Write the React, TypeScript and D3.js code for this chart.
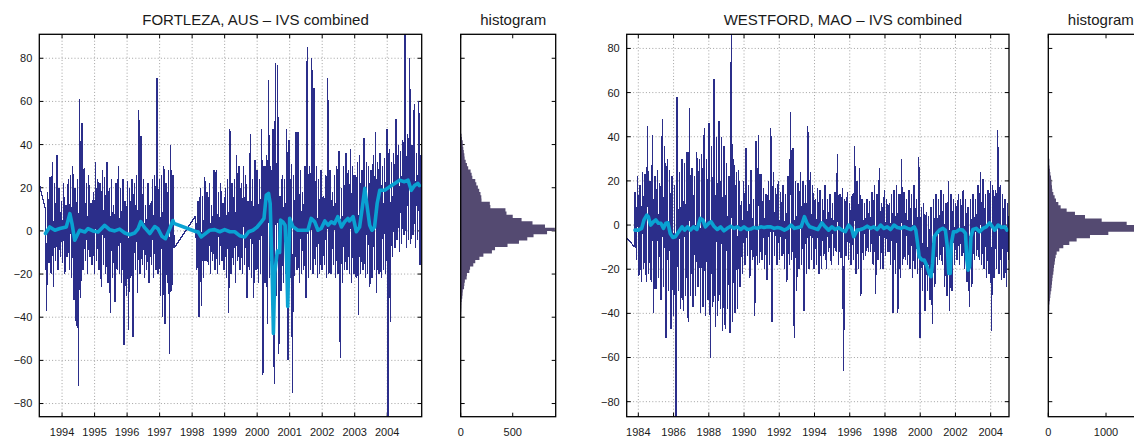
import React from "react";
import * as d3 from "d3";

// ================= FORTLEZA, AUS =================
const fortLeadYears = [1993.3, 1993.31];
const fortLeadValues = [50, 21];
const fortStep = 0.07;
const fortSeg1Start = 1993.49;
const fortSeg1Hi = [10, 18, 25, 32, 22, 35, 20, 14, 22, 12, 24, 26, 30, 20, 24, 61, 50, 29, 22, 26, 13, 18, 32, 24, 22, 28, 25, 32, 20, 24, 12, 22, 30, 20, 24, 14, 23, 20, 24, 22, 26, 56, 44, 24, 12, 22, 13, 24, 26, 71, 24, 26, 30, 22, 28, 40, 26];
const fortSeg1Lo = [-37, -15, -20, -26, -14, -18, -12, -15, -20, -12, -18, -22, -32, -44, -72, -31, -18, -14, -20, -12, -16, -20, -14, -18, -26, -16, -20, -24, -38, -22, -33, -18, -20, -24, -53, -30, -46, -22, -49, -18, -29, -20, -16, -22, -18, -24, -16, -22, -18, -20, -30, -40, -43, -24, -57, -28, -8];
const fortSeg2Start = 1998.11;
const fortSeg2Hi = [7, 14, 20, 16, 25, 18, 22, 12, 28, 28, 18, 22, 13, 20, 24, 47, 22, 24, 35, 30, 22, 30, 26, 14, 45, 24, 33, 28, 24, 47, 30, 35, 70, 30, 47, 78, 77, 16, 26, 24, 47, 42, 31, 26, 46, 46, 28, 18, 30, 85, 30, 80, 66, 30, 24, 28, 16, 26, 71, 28, 18, 26, 30, 37, 20, 30, 36, 28, 38, 30, 26, 32, 35, 28, 43, 32, 30, 28, 35, 46, 32, 36, 30, 34, 47, 38, 32, 36, 52, 40, 37, 42, 95, 45, 80, 40, 59, 36, 60, 35];
const fortSeg2Lo = [-18, -40, -35, -22, -14, -16, -20, -14, -18, -20, -16, -14, -18, -22, -38, -20, -16, -24, -14, -18, -20, -16, -31, -18, -22, -31, -18, -24, -20, -67, -24, -43, -22, -26, -71, -30, -57, -28, -24, -20, -60, -22, -75, -21, -18, -24, -20, -18, -31, -22, -18, -20, -16, -22, -20, -18, -16, -22, -20, -20, -16, -22, -20, -59, -24, -18, -18, -20, -24, -20, -22, -39, -20, -18, -22, -20, -26, -22, -18, -29, -20, -22, -18, -20, -95, -42, -12, -8, -4, -10, -6, -2, -8, -4, -6, -2, -8, -4, -16, -5];
const fortSmoothYears = [1993.49, 1993.62, 1993.78, 1993.93, 1994.13, 1994.24, 1994.31, 1994.39, 1994.54, 1994.7, 1994.8, 1994.95, 1995.11, 1995.31, 1995.47, 1995.62, 1995.77, 1995.93, 1996.08, 1996.23, 1996.34, 1996.42, 1996.54, 1996.7, 1996.85, 1996.95, 1997.07, 1997.18, 1997.31, 1997.41, 1997.44, 1998.13, 1998.18, 1998.28, 1998.39, 1998.54, 1998.69, 1998.85, 1999.0, 1999.16, 1999.31, 1999.46, 1999.62, 1999.74, 1999.87, 2000.0, 2000.13, 2000.21, 2000.28, 2000.35, 2000.4, 2000.46, 2000.5, 2000.54, 2000.62, 2000.69, 2000.72, 2000.79, 2000.86, 2000.91, 2000.94, 2000.97, 2001.0, 2001.1, 2001.25, 2001.41, 2001.56, 2001.66, 2001.77, 2001.87, 2001.97, 2002.08, 2002.18, 2002.28, 2002.38, 2002.48, 2002.59, 2002.69, 2002.79, 2002.84, 2002.95, 2003.05, 2003.15, 2003.25, 2003.31, 2003.37, 2003.46, 2003.53, 2003.61, 2003.69, 2003.77, 2003.92, 2004.07, 2004.23, 2004.38, 2004.53, 2004.64, 2004.74, 2004.84, 2004.94, 2004.99];
const fortSmoothValues = [-1.2, 1.8, 0.3, 1.1, 1.8, 8.0, 3.0, -4.3, 0.3, -0.5, 1.1, 0, -0.5, 2.6, 0.5, 0, 0.8, -1.0, -1.8, -1.0, 1.0, 4.3, 1.5, -1.2, 2.0, 1.0, -2.5, -3.6, 1.0, 4.8, 3.5, -0.4, -0.4, -2.8, -1.5, 0.3, 0.6, -0.4, 0.6, -0.4, -0.4, -2.2, -2.8, -0.4, 0.3, 1.8, 4.2, 5.8, 16.6, 17.4, 12.7, -18.2, -47.5, -19.7, -9.3, -10, 5, 4.2, 2.6, -15, -35, -15, 5.8, 2, 0.3, 0.3, 0.3, 5.8, 4.2, 0.3, 1.1, 4.6, 2.6, 4.2, 3.4, 6.6, 1.8, 4.2, 5.8, 4.6, 6.6, -0.4, 1.8, 12.7, 19.7, 12.7, 2.6, 0.3, 1.8, 12.7, 18.8, 18.8, 20.4, 22, 23.5, 22.8, 23.5, 18.8, 21, 22, 21];
const fortHistCounts = [2, 2, 3, 3, 4, 5, 6, 7, 10, 15, 18, 20, 32, 35, 40, 57, 60, 83, 90, 121, 140, 180, 218, 300, 330, 450, 560, 640, 700, 830, 905, 810, 690, 585, 500, 440, 430, 285, 280, 200, 198, 190, 178, 165, 150, 140, 112, 105, 95, 72, 60, 48, 38, 35, 30, 25, 20, 19, 12, 8];
const fortYearTicks = [1994, 1995, 1996, 1997, 1998, 1999, 2000, 2001, 2002, 2003, 2004];
const fortHistTicks = [0, 500];

// ================= WESTFORD, MAO =================
const westLeadYears = [1983.33, 1983.34, 1983.35, 1983.8];
const westLeadValues = [10, -17, -6, -10];
const westStep = 0.14;
const westStart = 1983.82;
const westHi = [15, 22, 18, 24, 23, 45, 20, 41, 22, 25, 19, 48, 36, 30, 25, 22, 18, 58, 24, 30, 28, 33, 53, 26, 22, 33, 30, 32, 44, 30, 46, 36, 66, 40, 47, 40, 36, 28, 22, 95, 30, 24, 25, 11, 20, 35, 18, 25, 12, 38, 41, 23, 17, 14, 20, 44, 24, 17, 20, 15, 18, 14, 22, 51, 35, 20, 19, 24, 20, 18, 45, 24, 18, 12, 17, 16, 12, 18, 12, 14, 10, 15, 32, 14, 17, 12, 15, 10, 14, 36, 20, 26, 12, 10, 12, 11, 15, 18, 14, 26, 10, 16, 12, 10, 14, 16, 18, 14, 30, 15, 12, 16, 14, 18, 12, 31, 8, 10, 6, 4, 8, 12, 14, 12, 16, 14, 10, 20, 14, 12, 10, 14, 12, 16, 12, 8, 12, 14, 12, 18, 24, 21, 14, 16, 20, 18, 16, 43, 18, 14, 12, 10];
const westLo = [-16, -23, -26, -20, -26, -22, -26, -40, -29, -24, -34, -28, -51, -30, -47, -41, -95, -30, -38, -39, -32, -44, -32, -37, -32, -28, -40, -37, -41, -34, -60, -37, -46, -41, -38, -48, -47, -38, -49, -44, -40, -38, -28, -22, -18, -14, -24, -16, -41, -18, -17, -16, -20, -25, -18, -44, -14, -18, -16, -14, -20, -26, -18, -16, -51, -30, -20, -18, -39, -22, -20, -16, -20, -18, -22, -20, -14, -20, -12, -18, -14, -12, -18, -15, -66, -14, -16, -18, -16, -22, -20, -32, -16, -14, -12, -12, -18, -31, -16, -20, -20, -14, -12, -18, -40, -22, -40, -24, -18, -16, -18, -20, -24, -20, -22, -51, -30, -39, -30, -34, -45, -28, -18, -16, -18, -28, -32, -39, -30, -18, -16, -18, -14, -20, -26, -37, -28, -16, -14, -16, -18, -20, -24, -22, -48, -24, -20, -22, -25, -24, -28, -16];
const westSmoothYears = [1983.81, 1984.0, 1984.19, 1984.32, 1984.48, 1984.57, 1984.7, 1984.86, 1984.99, 1985.14, 1985.28, 1985.43, 1985.56, 1985.68, 1985.81, 1985.96, 1986.1, 1986.29, 1986.48, 1986.63, 1986.8, 1986.95, 1987.14, 1987.33, 1987.52, 1987.66, 1987.81, 1988.0, 1988.13, 1988.29, 1988.48, 1988.67, 1988.86, 1989.05, 1989.24, 1989.43, 1989.62, 1989.81, 1990.0, 1990.19, 1990.38, 1990.57, 1990.76, 1990.95, 1991.14, 1991.33, 1991.52, 1991.71, 1991.9, 1992.1, 1992.29, 1992.48, 1992.67, 1992.86, 1993.05, 1993.24, 1993.43, 1993.58, 1993.73, 1994.0, 1994.19, 1994.42, 1994.61, 1994.8, 1994.99, 1995.18, 1995.37, 1995.56, 1995.75, 1995.94, 1996.1, 1996.23, 1996.42, 1996.61, 1996.8, 1996.99, 1997.18, 1997.37, 1997.56, 1997.75, 1997.94, 1998.13, 1998.32, 1998.51, 1998.7, 1998.9, 1999.09, 1999.28, 1999.47, 1999.66, 1999.75, 1999.85, 1999.94, 2000.1, 2000.23, 2000.36, 2000.51, 2000.61, 2000.7, 2000.8, 2000.93, 2001.09, 2001.28, 2001.43, 2001.54, 2001.62, 2001.7, 2001.77, 2001.89, 2002.04, 2002.23, 2002.42, 2002.57, 2002.65, 2002.72, 2002.8, 2002.88, 2002.99, 2003.18, 2003.37, 2003.56, 2003.75, 2003.94, 2004.1, 2004.23, 2004.42, 2004.61, 2004.8, 2004.93];
const westSmoothValues = [-2.3, -2.3, -1.5, 2.3, 4.5, 3.8, 0, 1.5, 2.3, 0.8, 0.8, -1.5, 0.8, 1, -3.8, -5.6, -5.3, -3, -0.8, -2.3, -0.8, -2.3, -0.8, -2, 3, 2.3, -0.8, 0.8, 1.5, -0.5, -2, -0.8, -2.6, -1.5, -0.5, -1.5, -0.8, -2, -0.8, -2, -1.8, -1.1, -1.5, -0.8, -1.1, -0.8, -0.8, -1.5, -1.1, -1.5, -2.3, -1.5, 0, -1.5, -1.1, -0.8, 3.8, 0.8, -0.8, -1.5, -2, 1, -0.8, -2.3, -0.8, -2, -1.2, -2.3, -3, 0, -1.5, -5.3, -2.3, -2, -1.5, -0.5, -1.5, -0.8, -2, 0, -1.5, -0.8, -2, 0, -1.1, -1.5, -0.8, -1.5, -2, -0.8, -2.3, -8.3, -14.3, -15.8, -15.8, -18.1, -21.9, -23.4, -17.4, -5.3, -3.8, -2.3, -1.5, -2.3, -9.8, -21.9, -21.9, -8.3, -3, -3, -2, -2.3, -3.8, -15.8, -20.4, -18.9, -5.3, -2, -1.5, -3, -1.5, -0.8, 1, -0.8, -2.3, 0, -1.1, -0.8, -2.3];
const westHistCounts = [4, 6, 12, 12, 18, 18, 23, 29, 35, 41, 52, 58, 64, 70, 76, 87, 93, 99, 110, 116, 128, 145, 191, 260, 364, 491, 722, 1040, 1500, 1620, 1358, 925, 636, 462, 318, 214, 174, 133, 110, 87, 70, 64, 58, 52, 47, 35, 29, 23, 18, 18, 12, 12, 6, 6, 4, 3, 3, 2, 2, 2];
const westYearTicks = [1984, 1986, 1988, 1990, 1992, 1994, 1996, 1998, 2000, 2002, 2004];
const westHistTicks = [0, 1000];

// ================= shared =================
const histBinStart = -45;
const histBinWidth = 1.5;
const valueTicks = [-80, -60, -40, -20, 0, 20, 40, 60, 80];

const FONT = '"Liberation Sans", Arial, Helvetica, sans-serif';
const NAVY = "#2b2e8a";
const CYAN = "#0aa2d2";
const HISTC = "#544a71";
const TXT = "#1a1a1a";

function fmt(v: number) {
  return v < 0 ? "\u2212" + Math.abs(v) : String(v);
}

type Seg = { start: number; step: number; hi: number[]; lo: number[] };

function buildSeries(leadY: number[], leadV: number[], segs: Seg[]) {
  const pts: [number, number][] = leadY.map((t, i) => [t, leadV[i]]);
  segs.forEach((s) => {
    s.hi.forEach((h, i) => {
      const t = s.start + i * s.step;
      pts.push([t, h]);
      pts.push([t + s.step / 2, s.lo[i]]);
    });
  });
  return pts;
}

type Box = { x0: number; x1: number; y0: number; y1: number };

function Frame({ box, xs, ys, xTicks, xLabels, yLabels, grid }: any) {
  const { x0, x1, y0, y1 } = box;
  const tl = 4;
  return (
    <g>
      {xTicks.map((t: number) => (
        <g key={"xt" + t}>
          {grid && (
            <line x1={xs(t)} x2={xs(t)} y1={y0} y2={y1} stroke="#8a8a8a" strokeWidth={0.8} strokeDasharray="1 2.2" />
          )}
          <line x1={xs(t)} x2={xs(t)} y1={y1} y2={y1 - tl} stroke="#000" strokeWidth={1} />
          <line x1={xs(t)} x2={xs(t)} y1={y0} y2={y0 + tl} stroke="#000" strokeWidth={1} />
          {xLabels && (
            <text x={xs(t)} y={435.5} textAnchor="middle" fontSize={11} fontFamily={FONT} fill={TXT}>
              {t}
            </text>
          )}
        </g>
      ))}
      {valueTicks.map((v) => (
        <g key={"yt" + v}>
          {grid && (
            <line x1={x0} x2={x1} y1={ys(v)} y2={ys(v)} stroke="#8a8a8a" strokeWidth={0.8} strokeDasharray="1 2.2" />
          )}
          <line x1={x0} x2={x0 + tl} y1={ys(v)} y2={ys(v)} stroke="#000" strokeWidth={1} />
          <line x1={x1} x2={x1 - tl} y1={ys(v)} y2={ys(v)} stroke="#000" strokeWidth={1} />
          {yLabels && (
            <text x={x0 - 7} y={ys(v)} dy="0.36em" textAnchor="end" fontSize={11} fontFamily={FONT} fill={TXT}>
              {fmt(v)}
            </text>
          )}
        </g>
      ))}
    </g>
  );
}

function SeriesPanel({ id, box, xDomain, yDomain, xTicks, points, smooth, title }: any) {
  const { x0, x1, y0, y1 } = box as Box;
  const xs = d3.scaleLinear().domain(xDomain).range([x0, x1]);
  const ys = d3.scaleLinear().domain(yDomain).range([y1, y0]);
  const line = d3
    .line<[number, number]>()
    .x((d) => xs(d[0]))
    .y((d) => ys(d[1]));
  return (
    <g>
      <defs>
        <clipPath id={id}>
          <rect x={x0} y={y0} width={x1 - x0} height={y1 - y0} />
        </clipPath>
      </defs>
      <Frame box={box} xs={xs} ys={ys} xTicks={xTicks} xLabels yLabels grid />
      <g clipPath={`url(#${id})`}>
        <path
          d={line(points) || ""}
          fill="none"
          stroke={NAVY}
          strokeWidth={1.3}
          strokeLinejoin="bevel"
          shapeRendering="crispEdges"
        />
        <path d={line(smooth) || ""} fill="none" stroke={CYAN} strokeWidth={3.6} strokeLinejoin="round" strokeLinecap="round" />
      </g>
      <rect x={x0} y={y0} width={x1 - x0} height={y1 - y0} fill="none" stroke="#000" strokeWidth={1.3} />
      <text x={(x0 + x1) / 2 + 25} y={25} textAnchor="middle" fontSize={15} fontFamily={FONT} fill={TXT}>
        {title}
      </text>
    </g>
  );
}

function HistPanel({ box, yDomain, xMax, counts, xTicks }: any) {
  const { x0, x1, y0, y1 } = box as Box;
  const xs = d3.scaleLinear().domain([0, xMax]).range([x0, x1]);
  const ys = d3.scaleLinear().domain(yDomain).range([y1, y0]);
  // one stepped outline through the bins, so adjacent bars have no seams
  const path = d3.path();
  path.moveTo(xs(0), ys(histBinStart));
  counts.forEach((c: number, k: number) => {
    const lo = histBinStart + k * histBinWidth;
    path.lineTo(xs(c), ys(lo));
    path.lineTo(xs(c), ys(lo + histBinWidth));
  });
  path.lineTo(xs(0), ys(histBinStart + counts.length * histBinWidth));
  path.closePath();
  return (
    <g>
      <Frame box={box} xs={xs} ys={ys} xTicks={xTicks} xLabels yLabels={false} grid={false} />
      <path d={path.toString()} fill={HISTC} stroke="none" />
      <rect x={x0} y={y0} width={x1 - x0} height={y1 - y0} fill="none" stroke="#000" strokeWidth={1.3} />
      <text x={(x0 + x1) / 2 + 5} y={25} textAnchor="middle" fontSize={15} fontFamily={FONT} fill={TXT}>
        histogram
      </text>
    </g>
  );
}

export default function App() {
  const fortPoints = buildSeries(fortLeadYears, fortLeadValues, [
    { start: fortSeg1Start, step: fortStep, hi: fortSeg1Hi, lo: fortSeg1Lo },
    { start: fortSeg2Start, step: fortStep, hi: fortSeg2Hi, lo: fortSeg2Lo },
  ]);
  const westPoints = buildSeries(westLeadYears, westLeadValues, [
    { start: westStart, step: westStep, hi: westHi, lo: westLo },
  ]);
  const fortSmooth = fortSmoothYears.map((t, i) => [t, fortSmoothValues[i]]);
  const westSmooth = westSmoothYears.map((t, i) => [t, westSmoothValues[i]]);

  const fortY = [-86.1, 91.1];
  const westY = [-86.8, 86.4];

  return (
    <svg
      width={1134}
      height={436}
      style={{ position: "absolute", left: 0, top: 0, background: "#fff" }}
      xmlns="http://www.w3.org/2000/svg"
    >
      <rect x={0} y={0} width={1134} height={436} fill="#fff" />
      <SeriesPanel
        id="clipFort"
        box={{ x0: 39.3, x1: 421.7, y0: 34.3, y1: 416.7 }}
        xDomain={[1993.3, 2005.06]}
        yDomain={fortY}
        xTicks={fortYearTicks}
        points={fortPoints}
        smooth={fortSmooth}
        title="FORTLEZA, AUS – IVS combined"
      />
      <HistPanel
        box={{ x0: 460.7, x1: 555.7, y0: 34.3, y1: 416.7 }}
        yDomain={fortY}
        xMax={913}
        counts={fortHistCounts}
        xTicks={fortHistTicks}
      />
      <SeriesPanel
        id="clipWest"
        box={{ x0: 626.7, x1: 1009, y0: 34.3, y1: 416.7 }}
        xDomain={[1983.34, 2005.04]}
        yDomain={westY}
        xTicks={westYearTicks}
        points={westPoints}
        smooth={westSmooth}
        title="WESTFORD, MAO – IVS combined"
      />
      <HistPanel
        box={{ x0: 1048.3, x1: 1143.3, y0: 34.3, y1: 416.7 }}
        yDomain={westY}
        xMax={1646}
        counts={westHistCounts}
        xTicks={westHistTicks}
      />
    </svg>
  );
}
